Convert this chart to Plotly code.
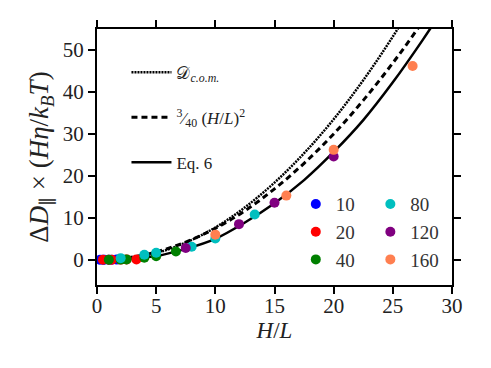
import plotly.graph_objects as go

# theory curves
curve_x = [0, 2.5, 5, 7.5, 10, 12.5, 15, 17.5, 20, 22.5, 25, 27.5, 30]
dcom_y = [0, 0.23, 1.59, 4.1, 7.7, 12.5, 18.4, 25.4, 33.5, 42.8, 53.2, 64.8, 77.4]
quad_y = [0, 0.47, 1.88, 4.22, 7.5, 11.7, 16.9, 23.0, 30.0, 38.0, 46.9, 56.7, 67.5]
eq6_y = [0, 0.2, 0.9, 2.6, 5.0, 8.9, 13.5, 19.0, 25.7, 33.3, 42.3, 52.3, 63.0]

# simulation points per series
labels = ['10', '20', '40', '80', '120', '160']
colors = ['#0000ff', '#ff0000', '#008000', '#00bfbf', '#800080', '#ff7f50']
x_10 = [0.25, 0.5, 0.63, 1.0, 1.25, 1.67]
y_10 = [0, 0, 0, 0, 0, 0.05]
x_20 = [0.5, 1.0, 1.25, 2.0, 2.5, 3.33]
y_20 = [0, 0, 0, 0.05, 0.1, 0.1]
x_40 = [1.0, 2.0, 2.5, 4.0, 5.0, 6.67]
y_40 = [0, 0.05, 0.1, 0.5, 0.85, 2.0]
x_80 = [2.0, 4.0, 5.0, 8.0, 10.0, 13.33]
y_80 = [0.4, 1.2, 1.7, 3.1, 5.1, 10.8]
x_120 = [7.5, 12.0, 15.0, 20.0]
y_120 = [2.8, 8.5, 13.6, 24.6]
x_160 = [10.0, 16.0, 20.0, 26.67]
y_160 = [6.0, 15.3, 26.2, 46.2]
series_x = [x_10, x_20, x_40, x_80, x_120, x_160]
series_y = [y_10, y_20, y_40, y_80, y_120, y_160]

FONT = 'Liberation Serif, DejaVu Serif, serif'

fig = go.Figure()

line_specs = [
    ('𝒟<sub><i>c.o.m.</i></sub>', dcom_y, '2px,1px', 2.5),
    ('<sup>3</sup>⁄<sub>40</sub> (<i>H</i>/<i>L</i>)<sup>2</sup>', quad_y, '6px,4px', 3),
    ('Eq. 6', eq6_y, 'solid', 2.5),
]
for i, (name, ys, dash, w) in enumerate(line_specs):
    fig.add_trace(go.Scatter(
        x=curve_x, y=ys, mode='lines', name=name, legend='legend',
        legendgroup='l%d' % i,
        line=dict(color='black', width=w, dash=dash, shape='spline'),
    ))

for i, (lab, c, xs, ys) in enumerate(zip(labels, colors, series_x, series_y)):
    fig.add_trace(go.Scatter(
        x=xs, y=ys, mode='markers', name=lab,
        legend='legend2' if i < 3 else 'legend3',
        marker=dict(color=c, size=10),
    ))

# page body adds an 8px offset, so the figure is a bit smaller than the window
fig.update_layout(
    width=483, height=360,
    margin=dict(l=89, r=39, t=19, b=83),
    plot_bgcolor='white', paper_bgcolor='white',
    font=dict(family=FONT, size=21, color='#222'),
    legend=dict(x=0.083, y=0.9, xanchor='left', yanchor='top',
                bgcolor='rgba(0,0,0,0)', font=dict(size=17, color='#222'),
                traceorder='grouped', tracegroupgap=20, itemwidth=40),
    legend2=dict(x=0.56, y=0.39, xanchor='left', yanchor='top',
                 bgcolor='rgba(0,0,0,0)', font=dict(size=19, color='#333'),
                 itemwidth=30),
    legend3=dict(x=0.77, y=0.39, xanchor='left', yanchor='top',
                 bgcolor='rgba(0,0,0,0)', font=dict(size=19, color='#333'),
                 itemwidth=30),
)
fig.update_xaxes(
    range=[0, 30], tickvals=[0, 5, 10, 15, 20, 25, 30],
    showgrid=False, zeroline=False,
    showline=True, linecolor='black', linewidth=2, mirror='ticks',
    ticks='outside', ticklen=7, tickwidth=2, tickcolor='black',
    ticklabelstandoff=-6,
    title=dict(text='<i>H</i>/<i>L</i>', font=dict(size=23), standoff=0),
)
fig.update_yaxes(
    range=[-6, 55], tickvals=[0, 10, 20, 30, 40, 50],
    showgrid=False, zeroline=False,
    showline=True, linecolor='black', linewidth=2, mirror='ticks',
    ticks='outside', ticklen=7, tickwidth=2, tickcolor='black',
    title=dict(text='Δ<i>D</i><sub>∥</sub> × (<i>Hη</i>/<i>k</i><sub><i>B</i></sub><i>T</i>)',
               font=dict(size=27), standoff=6),
)

fig.write_html("out.html")
